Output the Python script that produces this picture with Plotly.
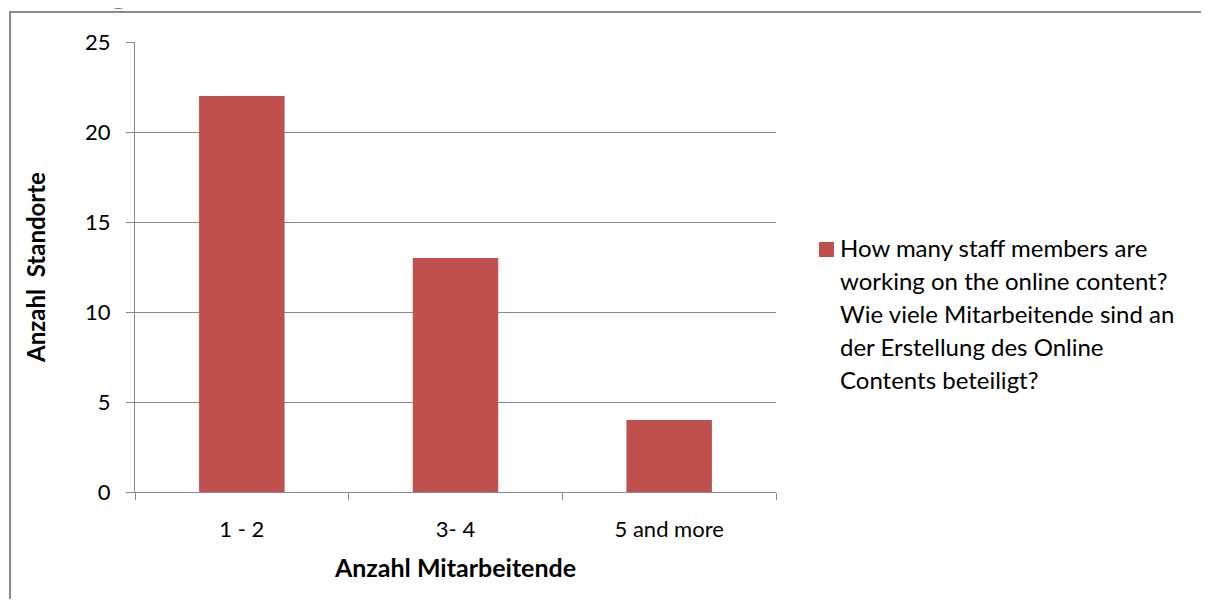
import plotly.graph_objects as go

categories = ["1 - 2", "3- 4", "5 and more"]
values = [22, 13, 4]
series_name = "How many staff members are working on the online content? Wie viele Mitarbeitende sind an der Erstellung des Online Contents beteiligt?"
legend_lines = [
    "How many staff members are",
    "working on the online content?",
    "Wie viele Mitarbeitende sind an",
    "der Erstellung des Online",
    "Contents beteiligt?",
]
y_ticks = [0, 5, 10, 15, 20, 25]

OFF = 8  # page body margin
WIN_W, WIN_H = 1209, 607
W, H = WIN_W - 2 * OFF, WIN_H - 2 * OFF
L, R, T, B = 135, 776, 42, 492  # plot area in window pixels
FONT = "Lato, Carlito, Calibri, sans-serif"
GRID = "#888888"
BAR = "#C0504D"


def px(x):
    return (x - L) / (R - L)


def py(y):
    return (B - y) / (B - T)


fig = go.Figure()
fig.add_trace(go.Bar(x=categories, y=values, name=series_name, marker_color=BAR,
                     marker_line_width=0, showlegend=False))

fig.update_layout(
    width=W, height=H,
    margin=dict(l=L - OFF, r=OFF + W - R, t=T - OFF, b=OFF + H - B, pad=0),
    paper_bgcolor="white", plot_bgcolor="white",
    bargap=0.6,
    font=dict(family=FONT, size=22, color="black"),
    xaxis=dict(
        showline=True, linecolor=GRID, linewidth=1,
        ticks="outside", ticklen=7, tickcolor=GRID, tickson="boundaries",
        showgrid=False, tickfont=dict(size=22), ticklabelstandoff=18,
        title=dict(text="<b>Anzahl Mitarbeitende</b>", font=dict(size=25), standoff=18),
    ),
    yaxis=dict(
        range=[0, 25], tickvals=y_ticks, showline=True, linecolor=GRID, linewidth=1,
        ticks="outside", ticklen=8, tickcolor=GRID,
        showgrid=True, gridcolor=GRID, gridwidth=1, zeroline=False,
        tickfont=dict(size=22), ticklabelstandoff=11,
        title=dict(text="<b>Anzahl  Standorte</b>", font=dict(size=24), standoff=32),
    ),
)

# outer border (cropped on right and bottom)
fig.add_shape(type="rect", xref="paper", yref="paper",
              x0=px(10), x1=px(1230), y0=py(630), y1=py(12),
              line=dict(color="#8a8a8a", width=2), fillcolor="rgba(0,0,0,0)", layer="below")

# manual legend
fig.add_shape(type="rect", xref="paper", yref="paper",
              x0=px(819), x1=px(834), y0=py(257), y1=py(242),
              line=dict(width=0), fillcolor=BAR)
for i, line in enumerate(legend_lines):
    fig.add_annotation(xref="paper", yref="paper", x=px(838), y=py(247 + 33 * i),
                       text=line, showarrow=False, xanchor="left", yanchor="middle",
                       font=dict(size=24, family=FONT, color="black"))

# cut-off heading descender at top
fig.add_annotation(xref="paper", yref="paper", x=px(119), y=py(-8),
                   text="<b>g</b>", showarrow=False, xanchor="center", yanchor="middle",
                   font=dict(size=30, family=FONT, color="#4F81BD"))

fig.write_html("out.html")
